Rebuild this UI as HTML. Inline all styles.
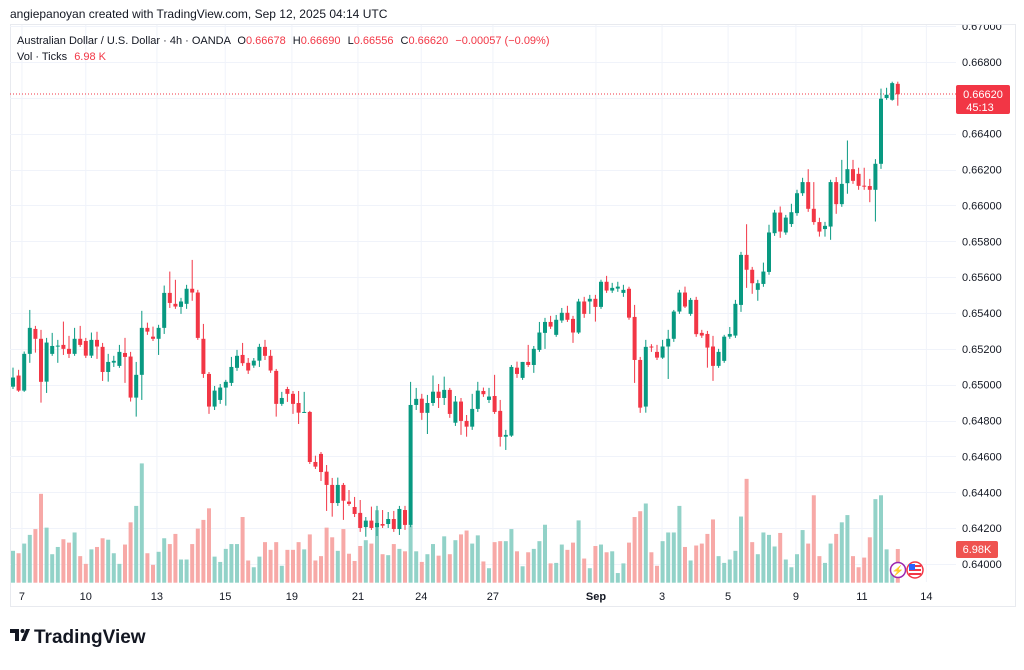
<!DOCTYPE html>
<html><head><meta charset="utf-8">
<style>
html,body{margin:0;padding:0;background:#fff;}
body{width:1024px;height:665px;overflow:hidden;font-family:"Liberation Sans",sans-serif;}
svg text{font-family:"Liberation Sans",sans-serif;}
</style></head>
<body>
<svg id="chart" width="1024" height="665" viewBox="0 0 1024 665" xmlns="http://www.w3.org/2000/svg">
  <defs><clipPath id="axclip"><rect x="956" y="25" width="68" height="570"/></clipPath></defs>
  <rect x="0" y="0" width="1024" height="665" fill="#ffffff"/>
  <text x="10" y="18" font-size="12" fill="#131722">angiepanoyan created with TradingView.com, Sep 12, 2025 04:14 UTC</text>
  <rect x="10.5" y="24.5" width="1005" height="582" fill="none" stroke="#e8eaef" stroke-width="1"/>
  <g id="grid"></g>
  <line x1="10" x2="956" y1="94" y2="94" stroke="#F23645" stroke-width="1" stroke-dasharray="1,2"/>
  <g id="volumes"></g>
  <g id="candles"></g>
  <g id="yaxis" clip-path="url(#axclip)"></g>
  <g id="xaxis"></g>
  <g>
    <text x="17" y="44" font-size="11" fill="#131722">Australian Dollar / U.S. Dollar · 4h · OANDA
      <tspan dx="4" fill="#131722">O</tspan><tspan fill="#F23645">0.66678</tspan>
      <tspan dx="4" fill="#131722">H</tspan><tspan fill="#F23645">0.66690</tspan>
      <tspan dx="4" fill="#131722">L</tspan><tspan fill="#F23645">0.66556</tspan>
      <tspan dx="4" fill="#131722">C</tspan><tspan fill="#F23645">0.66620</tspan>
      <tspan dx="4" fill="#F23645">−0.00057 (−0.09%)</tspan></text>
    <text x="17" y="60" font-size="11" fill="#131722">Vol · Ticks <tspan dx="4" fill="#F23645">6.98 K</tspan></text>
  </g>
  <g>
    <rect x="956" y="85" width="54" height="29" rx="2" fill="#F23645"/>
    <text x="983" y="98" font-size="11" fill="#fff" text-anchor="middle">0.66620</text>
    <text x="980" y="111" font-size="11" fill="#fff" text-anchor="middle">45:13</text>
  </g>
  <g>
    <rect x="956" y="541" width="42" height="17" rx="2" fill="#ef5350"/>
    <text x="977" y="553" font-size="11" fill="#fff" text-anchor="middle">6.98K</text>
  </g>
  <g>
    <circle cx="898" cy="570" r="7.5" fill="#fff" stroke="#9c27b0" stroke-width="1.5"/>
    <text x="898" y="574" font-size="10" fill="#9c27b0" text-anchor="middle">⚡</text>
    <circle cx="915" cy="570" r="8" fill="#fff" stroke="#F23645" stroke-width="1.5"/>
    <rect x="909" y="565" width="12" height="2" fill="#F23645"/><rect x="909" y="569" width="12" height="2" fill="#F23645"/><rect x="909" y="573" width="12" height="2" fill="#F23645"/>
    <rect x="909" y="564" width="6" height="6" fill="#2962ff"/>
  </g>
  <g>
    <path d="M10 629 h9 v12 h-4 v-8 h-5 z M21 641 l5 -12 h4 l-5 12 z" fill="#131722"/>
    <circle cx="22.5" cy="631" r="2" fill="#131722"/>
    <text x="34" y="643" font-size="19" font-weight="bold" fill="#131722">TradingView</text>
  </g>
</svg>
<script>
const opens=[.64989,.65051,.64967,.65172,.65311,.65256,.65017,.65172,.65214,.65222,
.65200,.65172,.65256,.65244,.65162,.65250,.65211,.65071,.65123,.65105,
.65177,.65157,.64928,.65055,.65317,.65268,.65256,.65317,.65512,.65451,
.65434,.65451,.65535,.65514,.65256,.65060,.64878,.64915,.64984,.65010,
.65094,.65166,.65122,.65107,.65134,.65211,.65161,.65077,.64893,.64976,
.64949,.64898,.64844,.64848,.64569,.64614,.64515,.64441,.64340,.64441,
.64348,.64318,.64285,.64206,.64242,.64206,.64223,.64223,.64251,.64195,
.64301,.64218,.64887,.64922,.64843,.64898,.64961,.64926,.64971,.64788,
.64906,.64798,.64766,.64865,.64965,.64915,.64937,.64854,.64710,.64716,
.65095,.65038,.65127,.65110,.65194,.65289,.65350,.65278,.65358,.65401,
.65367,.65291,.65464,.65464,.65479,.65434,.65574,.65525,.65536,.65512,
.65535,.65378,.65138,.64878,.65213,.65183,.65151,.65213,.65256,.65408,
.65514,.65395,.65473,.65289,.65283,.65213,.65105,.65133,.65268,.65274,
.65445,.65724,.65641,.65529,.65562,.65629,.65845,.65960,.65849,.65896,
.65957,.66068,.66130,.65981,.65907,.65868,.65882,.66130,.66007,.66124,
.66202,.66176,.66110,.66108,.66087,.66232,.66599,.66589,.66678];
const highs=[.65095,.65083,.65185,.65417,.65328,.65306,.65261,.65289,.65250,.65352,
.65272,.65317,.65328,.65261,.65291,.65295,.65233,.65172,.65161,.65222,
.65261,.65183,.65127,.65412,.65346,.65324,.65334,.65553,.65631,.65585,
.65484,.65557,.65696,.65529,.65339,.65071,.64993,.65004,.65027,.65155,
.65194,.65233,.65149,.65149,.65228,.65250,.65194,.65088,.64960,.64988,
.64965,.64965,.64960,.64854,.64604,.64625,.64552,.64480,.64482,.64452,
.64413,.64374,.64357,.64262,.64320,.64324,.64301,.64290,.64296,.64324,
.64324,.65016,.64982,.64949,.64943,.65051,.65004,.65045,.64982,.64937,
.64926,.64831,.64949,.65016,.64984,.64982,.65055,.64915,.64748,.65110,
.65129,.65127,.65222,.65216,.65350,.65373,.65384,.65389,.65428,.65440,
.65384,.65479,.65490,.65501,.65501,.65585,.65607,.65568,.65574,.65557,
.65546,.65445,.65155,.65250,.65226,.65222,.65250,.65306,.65417,.65529,
.65547,.65484,.65490,.65306,.65300,.65272,.65200,.65278,.65322,.65473,
.65741,.65895,.65657,.65585,.65681,.65892,.65975,.65994,.65947,.66009,
.66087,.66154,.66202,.66130,.65931,.65908,.66143,.66158,.66254,.66362,
.66254,.66210,.66210,.66148,.66258,.66651,.66656,.66690,.66690];
const lows=[.64976,.64960,.64960,.65122,.65179,.64900,.64954,.65161,.65122,.65166,
.65149,.65161,.65211,.65149,.65149,.65144,.65021,.65017,.65099,.65094,
.65010,.64906,.64822,.64915,.65278,.65244,.65166,.65283,.65428,.65423,
.65395,.65423,.65468,.65250,.65038,.64837,.64859,.64893,.64883,.64993,
.65077,.65105,.65060,.65094,.65099,.65138,.65066,.64822,.64882,.64904,
.64837,.64781,.64843,.64558,.64530,.64463,.64296,.64264,.64324,.64246,
.64324,.64262,.64179,.64152,.64190,.64156,.64201,.64201,.64179,.64162,
.64190,.64206,.64859,.64804,.64725,.64882,.64870,.64887,.64815,.64770,
.64720,.64710,.64748,.64848,.64932,.64898,.64837,.64655,.64636,.64709,
.65038,.65027,.65099,.65066,.65183,.65200,.65311,.65267,.65345,.65350,
.65233,.65283,.65373,.65395,.65352,.65423,.65512,.65512,.65518,.65490,
.65362,.65010,.64843,.64844,.65183,.65138,.65144,.65032,.65239,.65395,
.65428,.65384,.65267,.65261,.65095,.65021,.65094,.65122,.65256,.65261,
.65406,.65540,.65507,.65468,.65546,.65613,.65830,.65819,.65836,.65880,
.65942,.66053,.65964,.65892,.65826,.65826,.65808,.65953,.65992,.66065,
.66120,.66087,.66087,.66018,.65910,.66204,.66589,.66584,.66556];
const closes=[.65040,.64967,.65172,.65317,.65256,.65016,.65235,.65216,.65218,.65200,
.65172,.65256,.65222,.65162,.65250,.65213,.65071,.65127,.65133,.65183,
.65155,.64928,.65055,.65317,.65296,.65256,.65317,.65512,.65456,.65436,
.65464,.65535,.65514,.65261,.65060,.64878,.64967,.64984,.65016,.65099,
.65161,.65120,.65079,.65134,.65211,.65161,.65079,.64893,.64926,.64949,
.64893,.64844,.64848,.64569,.64543,.64513,.64441,.64340,.64441,.64353,
.64335,.64279,.64201,.64242,.64201,.64229,.64214,.64251,.64195,.64307,
.64218,.64887,.64921,.64843,.64898,.64961,.64926,.64971,.64837,.64906,
.64798,.64766,.64865,.64967,.64947,.64934,.64848,.64709,.64720,.65099,
.65060,.65127,.65110,.65200,.65291,.65350,.65324,.65362,.65401,.65362,
.65291,.65464,.65395,.65479,.65434,.65574,.65525,.65540,.65547,.65529,
.65374,.65138,.64872,.65211,.65209,.65151,.65213,.65256,.65408,.65514,
.65436,.65473,.65282,.65274,.65207,.65105,.65183,.65268,.65283,.65451,
.65724,.65641,.65566,.65566,.65631,.65849,.65960,.65854,.65932,.65962,
.66068,.66130,.65981,.65907,.65854,.65886,.66130,.66007,.66120,.66202,
.66137,.66109,.66105,.66087,.66232,.66595,.66617,.66682,.66620];
const volumes=[6.6,6.1,8.1,9.9,11.1,18.4,11.4,5.9,7.4,9.0,
8.3,10.4,5.5,3.9,6.9,7.4,9.2,8.9,6.1,3.9,
7.9,12.5,15.9,24.7,6.1,3.7,6.4,9.2,8.0,10.1,
4.8,4.8,8.0,11.2,13.0,15.4,5.4,4.3,7.0,8.0,
8.0,13.6,4.6,3.2,5.4,8.4,6.8,8.4,3.5,6.8,
6.8,8.4,6.9,10.0,4.6,5.5,11.4,9.4,6.6,11.1,
6.0,4.5,7.6,8.8,8.1,15.0,5.9,5.7,8.0,7.0,
6.5,11.9,6.5,4.3,5.9,8.0,5.6,9.6,5.9,8.8,
10.0,10.8,8.1,9.8,4.4,3.0,8.4,8.6,8.6,11.1,
6.5,3.4,6.3,7.0,8.6,12.0,4.0,4.1,7.9,6.8,
8.3,12.9,5.0,3.0,7.6,7.9,6.3,6.5,2.0,4.0,
8.3,13.6,14.8,16.4,6.3,3.5,8.6,10.4,10.4,15.9,
7.4,4.6,7.7,8.1,10.1,13.1,5.5,4.1,4.8,6.6,
13.7,21.5,8.4,5.9,10.4,9.9,7.5,10.3,4.8,3.2,
5.9,10.9,8.1,18.1,5.5,4.1,8.1,10.1,12.5,14.0,
5.5,3.2,5.2,9.4,17.3,18.1,6.9,3.0,6.98];
const priceTicks=[0.640,0.642,0.644,0.646,0.648,0.650,0.652,0.654,0.656,0.658,0.660,0.662,0.664,0.666,0.668,0.670];
const dateLabels=["7","10","13","15","19","21","24","27","Sep","3","5","9","11","14"];
const dateIndex=[1.6,13,25.7,37.9,49.8,61.6,72.9,85.7,104.1,115.9,127.7,139.8,151.6,163.1];

const NS="http://www.w3.org/2000/svg";
const X0=13, STEP=5.6;
function xScale(i){return X0+i*STEP;}
function yScale(p){return 564-(p-0.64)*17930;}
function vScale(v){return 582.7-v*4.83;}
function mk(tag,attrs,parent){const e=document.createElementNS(NS,tag);for(const k in attrs)e.setAttribute(k,attrs[k]);parent.appendChild(e);return e;}

const grid=document.getElementById('grid');
const yaxis=document.getElementById('yaxis');
const xaxis=document.getElementById('xaxis');
priceTicks.forEach(function(p){
  const y=Math.round(yScale(p))+0.5;
  if(y>25&&y<582){
    const g=mk('line',{x1:10,x2:956,y1:y,y2:y,stroke:'#f0f3fa','stroke-width':1},grid);
    
    
  }
  const t=mk('text',{x:962,y:yScale(p)+4,'font-size':11,fill:'#131722'},yaxis);
  t.textContent=p.toFixed(5);
  
  
});
dateLabels.forEach(function(lab,k){
  const x=xScale(dateIndex[k]);
  const g=mk('line',{x1:x,x2:x,y1:25,y2:582,stroke:'#f0f3fa','stroke-width':1},grid);
  
  
  const t=mk('text',{x:x,y:600,'font-size':11,fill:'#131722','text-anchor':'middle','font-weight':lab==='Sep'?'bold':'normal'},xaxis);
  t.textContent=lab;
  
  
});
const vg=document.getElementById('volumes');
volumes.forEach(function(v,i){
  const up=closes[i]>=opens[i];
  const top=vScale(v);
  const r=mk('rect',{x:xScale(i)-2,y:top,width:4,height:582.7-top,fill:up?'#92d2c8':'#f7a9a7'},vg);
  
  
});
const cg=document.getElementById('candles');
opens.forEach(function(o,i){
  const c=closes[i],h=highs[i],l=lows[i];
  const up=c>=o;
  const col=up?'#089981':'#F23645';
  const x=xScale(i);
  const g=mk('g',{},cg);
  
  
  mk('line',{x1:x,x2:x,y1:yScale(h),y2:yScale(l),stroke:col,'stroke-width':1},g);
  const yt=yScale(Math.max(o,c)),yb=yScale(Math.min(o,c));
  mk('rect',{x:x-2,y:yt,width:4,height:Math.max(1,yb-yt),fill:col},g);
});
</script>
</body></html>
